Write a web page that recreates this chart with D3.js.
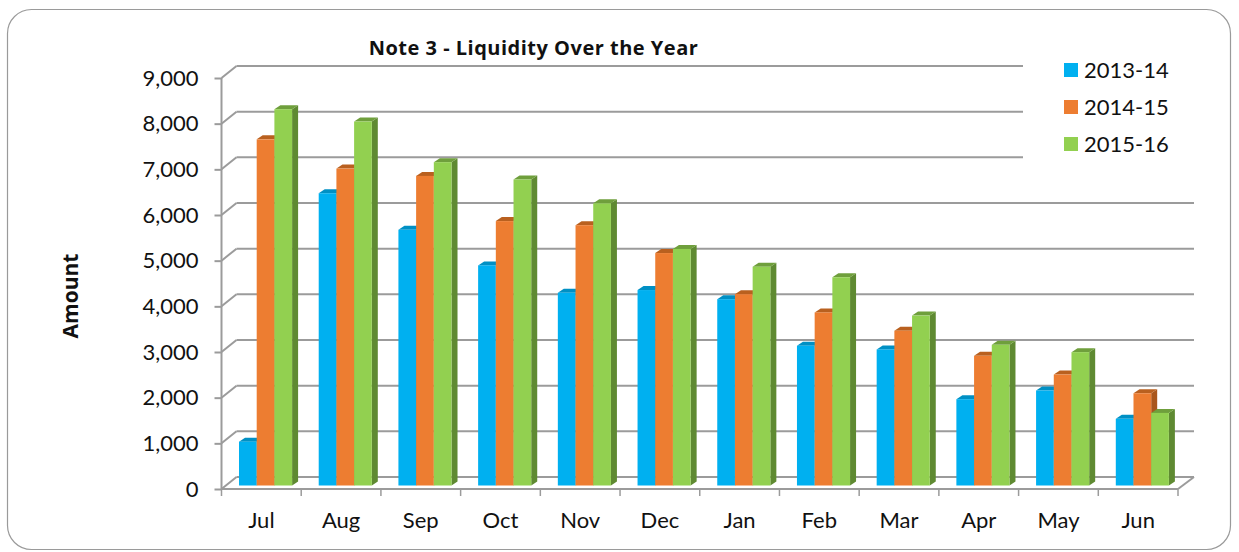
<!DOCTYPE html>
<html>
<head>
<meta charset="utf-8">
<script src="https://cdnjs.cloudflare.com/ajax/libs/d3/7.8.5/d3.min.js"></script>
<style>
  html, body { margin: 0; padding: 0; background: #fff; }
  text { font-family: Lato, "Open Sans", sans-serif; fill: #111; }
  .boldLabel { font-family: "Open Sans", Lato, sans-serif; font-weight: bold; }
</style>
</head>
<body>
<div id="chart"></div>
<script>
// Values
var months = ['Jul', 'Aug', 'Sep', 'Oct', 'Nov', 'Dec', 'Jan', 'Feb', 'Mar', 'Apr', 'May', 'Jun'];
var seriesNames = ['2013-14', '2014-15', '2015-16'];
var values2013 = [960, 6400, 5600, 4820, 4220, 4280, 4080, 3060, 2980, 1890, 2080, 1460];
var values2014 = [7580, 6940, 6780, 5790, 5700, 5090, 4190, 3790, 3390, 2840, 2430, 2020];
var values2015 = [8240, 7970, 7080, 6700, 6180, 5180, 4790, 4560, 3720, 3080, 2920, 1590];
var yTicks = [0, 1000, 2000, 3000, 4000, 5000, 6000, 7000, 8000, 9000];

var seriesValues = [values2013, values2014, values2015];
var frontColors = ['#00b0f0', '#ed7d31', '#92d050'];
var topColors = ['#0090c4', '#b9601f', '#6f9f3c'];
var sideColors = ['#007fad', '#a9561c', '#5f8a32'];

var svgWidth = 1239;
var svgHeight = 552;

// Front edge of the 3D box, and how far the back wall is shifted from it
var plot = { left: 221.5, right: 1178, top: 78, bottom: 489 };
var depth = { x: 15, y: 12 };
var barDepth = { x: 6, y: 4 };
var barBase = 3.5; // bars stand a little behind the front edge

var svg = d3.select('#chart')
    .append('svg')
    .attr('width', svgWidth)
    .attr('height', svgHeight)
    .style('display', 'block');

// Rounded outer frame
svg.append('rect')
    .attr('x', 7.5)
    .attr('y', 9.5)
    .attr('width', 1223)
    .attr('height', 540)
    .attr('rx', 24)
    .attr('fill', '#fff')
    .attr('stroke', '#9a9a9a')
    .attr('stroke-width', 1.2);

var xScale = d3.scaleBand()
    .domain(months)
    .range([plot.left, plot.right]);

var yScale = d3.scaleLinear()
    .domain([0, 9000])
    .range([plot.bottom, plot.top]);

var gridColor = '#9b9b9b';
var gridGroup = svg.append('g');

// Back wall gridlines and the slanted bits on the side wall
yTicks.forEach(function(t) {
    var y = yScale(t);
    gridGroup.append('line')
        .attr('x1', plot.left).attr('y1', y)
        .attr('x2', plot.left + depth.x).attr('y2', y - depth.y)
        .attr('stroke', gridColor).attr('stroke-width', 2);
    gridGroup.append('line')
        .attr('x1', plot.left + depth.x).attr('y1', y - depth.y)
        .attr('x2', plot.right + depth.x + 1).attr('y2', y - depth.y)
        .attr('stroke', gridColor).attr('stroke-width', 2);
});

// Floor: front edge and right slant
gridGroup.append('line')
    .attr('x1', plot.left).attr('y1', plot.bottom)
    .attr('x2', plot.right).attr('y2', plot.bottom)
    .attr('stroke', gridColor).attr('stroke-width', 2);
gridGroup.append('line')
    .attr('x1', plot.right).attr('y1', plot.bottom)
    .attr('x2', plot.right + depth.x + 1).attr('y2', plot.bottom - depth.y)
    .attr('stroke', gridColor).attr('stroke-width', 2);
gridGroup.append('line')
    .attr('x1', plot.left).attr('y1', plot.top)
    .attr('x2', plot.left).attr('y2', plot.bottom)
    .attr('stroke', gridColor).attr('stroke-width', 2);

// Axes: only the ticks and labels, the domain line is drawn above
var yAxis = svg.append('g')
    .attr('transform', `translate(${plot.left}, 0)`)
    .call(d3.axisLeft(yScale).tickValues(yTicks).tickFormat(d3.format(',')).tickSize(7).tickPadding(16));
yAxis.select('.domain').remove();
yAxis.selectAll('line').attr('stroke', gridColor).attr('stroke-width', 2);
yAxis.selectAll('text').style('font-size', '22px').attr('fill', '#111');

var xAxis = svg.append('g')
    .attr('transform', `translate(0, ${plot.bottom})`)
    .call(d3.axisBottom(xScale).tickSize(0).tickPadding(23));
xAxis.select('.domain').remove();
xAxis.selectAll('text').style('font-size', '22px').attr('fill', '#111');

// Category separators sit on the band edges
svg.append('g')
    .selectAll('line')
    .data(months.concat('end'))
    .enter()
    .append('line')
    .attr('x1', function(d, i) { return plot.left + i * xScale.bandwidth(); })
    .attr('x2', function(d, i) { return plot.left + i * xScale.bandwidth(); })
    .attr('y1', plot.bottom)
    .attr('y2', plot.bottom + 7)
    .attr('stroke', gridColor)
    .attr('stroke-width', 1.5);

// Bars: draw each series back to front so the next series covers the side face
var barWidth = 17.7;
var barOffset = 17.5;
var barsGroup = svg.append('g');

months.forEach(function(month, m) {
    seriesValues.forEach(function(values, s) {
        var x0 = xScale(month) + barOffset + s * barWidth;
        var x1 = x0 + barWidth;
        var yTop = yScale(values[m]) - barBase;
        var yBot = plot.bottom - barBase;

        // side face
        barsGroup.append('polygon')
            .attr('points', [[x1, yTop], [x1 + barDepth.x, yTop - barDepth.y], [x1 + barDepth.x, yBot - barDepth.y], [x1, yBot]].join(' '))
            .attr('fill', sideColors[s]);
        // top face
        barsGroup.append('polygon')
            .attr('points', [[x0, yTop], [x0 + barDepth.x, yTop - barDepth.y], [x1 + barDepth.x, yTop - barDepth.y], [x1, yTop]].join(' '))
            .attr('fill', topColors[s]);
        // front face
        barsGroup.append('rect')
            .attr('x', x0)
            .attr('y', yTop)
            .attr('width', barWidth)
            .attr('height', yBot - yTop)
            .attr('fill', frontColors[s]);
    });
});

// Legend sits on a white box that hides the top gridlines
svg.append('rect')
    .attr('x', 1023)
    .attr('y', 50)
    .attr('width', 175)
    .attr('height', 125)
    .attr('fill', '#fff');

var legend = svg.append('g')
    .selectAll('g')
    .data(seriesNames)
    .enter()
    .append('g')
    .attr('transform', function(d, i) { return `translate(1064, ${63 + i * 37})`; });

legend.append('rect')
    .attr('width', 14)
    .attr('height', 14)
    .attr('fill', function(d, i) { return frontColors[i]; });

legend.append('text')
    .attr('x', 20)
    .attr('y', 15)
    .style('font-size', '22px')
    .text(function(d) { return d; });

// Title and y axis label
svg.append('text')
    .attr('class', 'boldLabel')
    .attr('x', 533.5)
    .attr('y', 54.5)
    .attr('text-anchor', 'middle')
    .style('font-size', '20px')
    .style('letter-spacing', '0.5px')
    .text('Note 3 - Liquidity Over the Year');

svg.append('text')
    .attr('class', 'boldLabel')
    .attr('transform', 'translate(78, 296) rotate(-90)')
    .attr('text-anchor', 'middle')
    .style('font-size', '21px')
    .text('Amount');
</script>
</body>
</html>
